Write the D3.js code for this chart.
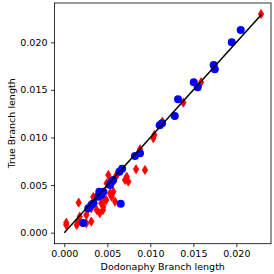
<!doctype html>
<html lang="en">
<head>
<meta charset="utf-8">
<script src="https://cdn.jsdelivr.net/npm/d3@7"></script>
<style>
  body { margin: 0; background: #fff; }
  text { font-family: "DejaVu Sans", sans-serif; }
</style>
</head>
<body>
<div id="chart"></div>
<script>
    // Dodonaphy vs true branch lengths
    var xTicks = [0.000, 0.005, 0.010, 0.015, 0.020];
    var yTicks = [0.000, 0.005, 0.010, 0.015, 0.020];

    // blue circles
    var blueX = [0.02051, 0.01947, 0.01737, 0.01749, 0.01505, 0.01551, 0.01322, 0.01284, 0.01136, 0.01109,
                 0.00880, 0.00822, 0.00672, 0.00640, 0.00551, 0.00531, 0.00454, 0.00407, 0.00395, 0.00337,
                 0.00314, 0.00279, 0.00656, 0.00217, 0.00430, 0.00568];
    var blueY = [0.02129, 0.02000, 0.01762, 0.01716, 0.01580, 0.01527, 0.01401, 0.01226, 0.01149, 0.01128,
                 0.00834, 0.00806, 0.00672, 0.00641, 0.00536, 0.00501, 0.00431, 0.00431, 0.00378, 0.00309,
                 0.00291, 0.00256, 0.00305, 0.00102, 0.00396, 0.00554];

    // red thin diamonds
    var redX = [0.02287, 0.01590, 0.01384, 0.01140, 0.01047, 0.01035, 0.00880, 0.00834, 0.00938, 0.00726,
                0.00744, 0.00609, 0.00512, 0.00493, 0.00570, 0.00551, 0.00590, 0.00473, 0.00453, 0.00377,
                0.00450, 0.00412, 0.00353, 0.00430, 0.00314, 0.00276, 0.00256, 0.00179, 0.00159, 0.00314,
                0.00256, 0.00023, 0.00023, 0.00167, 0.00372, 0.00488, 0.00648, 0.00706, 0.00598, 0.00531,
                0.00144, 0.00337];
    var redY = [0.02297, 0.01580, 0.01366, 0.01166, 0.01026, 0.00991, 0.00876, 0.00666, 0.00659, 0.00588,
                0.00536, 0.00606, 0.00606, 0.00519, 0.00431, 0.00378, 0.00326, 0.00343, 0.00273, 0.00238,
                0.00238, 0.00204, 0.00309, 0.00309, 0.00256, 0.00246, 0.00186, 0.00168, 0.00116, 0.00116,
                0.00099, 0.00105, 0.00080, 0.00315, 0.00378, 0.00343, 0.00655, 0.00554, 0.00588, 0.00414,
                0.00081, 0.00375];

    // y = x reference line
    var lineVals = [0, 0.0229];

    var W = 274, H = 274;
    var margin = {top: 3, right: 3, bottom: 30.3, left: 54.5};

    var x = d3.scaleLinear().domain([-0.00114, 0.02403]).range([margin.left, W - margin.right]);
    var y = d3.scaleLinear().domain([-0.00116, 0.02413]).range([H - margin.bottom, margin.top]);

    var svg = d3.select("#chart").append("svg")
        .attr("width", W)
        .attr("height", H);

    var thinDiamond = {
        draw: function(ctx, size) {
            var h = Math.sqrt(size) / 2, w = h * 0.6;
            ctx.moveTo(0, -h);
            ctx.lineTo(w, 0);
            ctx.lineTo(0, h);
            ctx.lineTo(-w, 0);
            ctx.closePath();
        }
    };

    // red diamonds
    svg.append("g").selectAll("path")
        .data(d3.range(redX.length))
        .join("path")
        .attr("transform", function(i) { return "translate(" + x(redX[i]) + "," + y(redY[i]) + ")"; })
        .attr("d", d3.symbol().type(thinDiamond).size(81))
        .attr("fill", "red")
        .attr("stroke", "red")
        .attr("stroke-width", 0.8);

    // blue circles
    svg.append("g").selectAll("circle")
        .data(d3.range(blueX.length))
        .join("circle")
        .attr("cx", function(i) { return x(blueX[i]); })
        .attr("cy", function(i) { return y(blueY[i]); })
        .attr("r", 4)
        .attr("fill", "blue");

    // reference line
    svg.append("path")
        .attr("fill", "none")
        .attr("stroke", "black")
        .attr("stroke-width", 1.5)
        .attr("d", d3.line().x(function(d) { return x(d); }).y(function(d) { return y(d); })(lineVals));

    // axes
    var xAxis = d3.axisBottom(x).tickValues(xTicks).tickFormat(d3.format(".3f")).tickSize(3.5).tickPadding(3.5);
    var yAxis = d3.axisLeft(y).tickValues(yTicks).tickFormat(d3.format(".3f")).tickSize(3.5).tickPadding(3.5);

    svg.append("g")
        .attr("transform", "translate(0," + (H - margin.bottom) + ")")
        .call(xAxis)
        .call(function(g) { g.select(".domain").remove(); });
    svg.append("g")
        .attr("transform", "translate(" + margin.left + ",0)")
        .call(yAxis)
        .call(function(g) { g.select(".domain").remove(); });

    svg.selectAll(".tick text")
        .attr("font-family", "DejaVu Sans, sans-serif")
        .attr("font-size", 9.5)
        .attr("fill", "#000");
    svg.selectAll(".tick line").attr("stroke", "#000").attr("stroke-width", 0.8);

    // frame
    svg.append("rect")
        .attr("x", margin.left)
        .attr("y", margin.top)
        .attr("width", W - margin.left - margin.right)
        .attr("height", H - margin.top - margin.bottom)
        .attr("fill", "none")
        .attr("stroke", "#000")
        .attr("stroke-width", 0.8);

    // axis labels
    svg.append("text")
        .attr("x", (margin.left + W - margin.right) / 2)
        .attr("y", 270)
        .attr("text-anchor", "middle")
        .attr("font-size", 9.5)
        .text("Dodonaphy Branch length");

    svg.append("text")
        .attr("transform", "translate(15," + ((margin.top + H - margin.bottom) / 2) + ") rotate(-90)")
        .attr("text-anchor", "middle")
        .attr("font-size", 9.5)
        .text("True Branch length");
</script>
</body>
</html>
